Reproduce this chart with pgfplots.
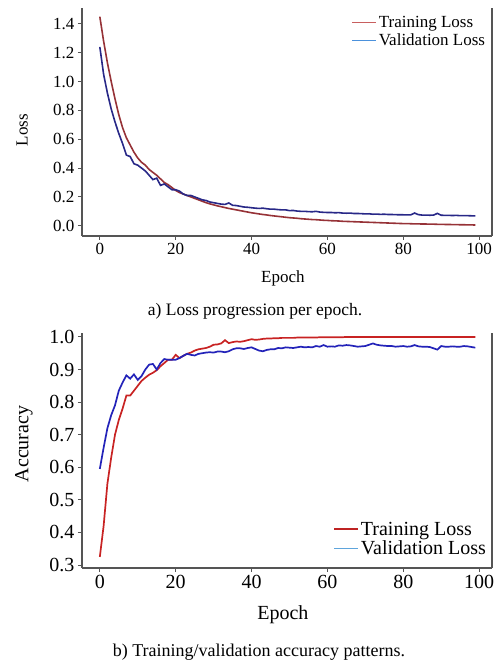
\documentclass[border=0pt]{standalone}
\usepackage{pgfplots}
\pgfplotsset{compat=1.18}
\usepackage{pgfplotstable}
\usepackage{fontspec}
\setmainfont{Liberation Serif}
\definecolor{axiscol}{RGB}{85,85,85}
\definecolor{trtop}{RGB}{150,50,55}
\definecolor{vatop}{RGB}{40,40,135}
\definecolor{trbot}{RGB}{200,35,35}
\definecolor{vabot}{RGB}{35,35,185}
\definecolor{legtrtop}{RGB}{200,95,95}
\definecolor{legvatop}{RGB}{75,145,220}
\definecolor{legtrbot}{RGB}{190,35,35}
\definecolor{legvabot}{RGB}{95,165,220}

\pgfplotstableread{
e tr va
0 1.45 1.24
1 1.28 1.05
2 1.13 0.92
3 1.00 0.81
4 0.88 0.72
5 0.77 0.64
6 0.68 0.57
7 0.61 0.49
8 0.56 0.48
9 0.51 0.43
10 0.47 0.42
11 0.44 0.40
12 0.42 0.38
13 0.39 0.35
14 0.37 0.32
15 0.35 0.33
16 0.325 0.28
17 0.30 0.29
18 0.285 0.27
19 0.265 0.25
20 0.245 0.25
21 0.23 0.24
22 0.22 0.22
23 0.21 0.21
24 0.20 0.21
25 0.19 0.20
26 0.18 0.19
27 0.17 0.18
28 0.16 0.175
29 0.152 0.165
30 0.145 0.16
31 0.138 0.155
32 0.132 0.15
33 0.126 0.148
34 0.12 0.158
35 0.115 0.142
36 0.11 0.14
37 0.105 0.135
38 0.10 0.13
39 0.095 0.128
40 0.09 0.125
41 0.086 0.122
42 0.082 0.12
43 0.078 0.122
44 0.075 0.118
45 0.071 0.115
46 0.068 0.115
47 0.065 0.112
48 0.062 0.11
49 0.059 0.11
50 0.056 0.105
51 0.054 0.106
52 0.052 0.102
53 0.049 0.10
54 0.047 0.10
55 0.045 0.098
56 0.043 0.097
57 0.042 0.10
58 0.040 0.095
59 0.038 0.093
60 0.037 0.092
61 0.035 0.092
62 0.034 0.09
63 0.033 0.091
64 0.031 0.088
65 0.030 0.087
66 0.029 0.088
67 0.028 0.085
68 0.027 0.085
69 0.026 0.084
70 0.025 0.082
71 0.024 0.083
72 0.023 0.08
73 0.022 0.081
74 0.021 0.079
75 0.020 0.08
76 0.019 0.078
77 0.018 0.078
78 0.017 0.077
79 0.016 0.076
80 0.015 0.076
81 0.015 0.075
82 0.014 0.076
83 0.013 0.088
84 0.013 0.077
85 0.012 0.074
86 0.012 0.074
87 0.011 0.073
88 0.011 0.074
89 0.010 0.086
90 0.010 0.073
91 0.009 0.072
92 0.009 0.072
93 0.008 0.071
94 0.008 0.072
95 0.007 0.070
96 0.007 0.070
97 0.006 0.070
98 0.006 0.069
99 0.005 0.069
}\losstable

\pgfplotstableread{
e tr va
0 0.325 0.595
1 0.42 0.66
2 0.55 0.72
3 0.63 0.76
4 0.70 0.79
5 0.745 0.835
6 0.78 0.86
7 0.82 0.882
8 0.82 0.872
9 0.835 0.885
10 0.85 0.868
11 0.865 0.88
12 0.875 0.90
13 0.884 0.915
14 0.89 0.917
15 0.898 0.90
16 0.91 0.92
17 0.92 0.932
18 0.93 0.93
19 0.93 0.93
20 0.945 0.93
21 0.935 0.935
22 0.942 0.942
23 0.948 0.948
24 0.952 0.945
25 0.958 0.943
26 0.962 0.948
27 0.964 0.95
28 0.966 0.952
29 0.97 0.953
30 0.976 0.952
31 0.977 0.955
32 0.98 0.955
33 0.99 0.953
34 0.981 0.956
35 0.984 0.962
36 0.986 0.965
37 0.985 0.965
38 0.987 0.963
39 0.99 0.966
40 0.993 0.968
41 0.991 0.963
42 0.992 0.958
43 0.994 0.956
44 0.995 0.96
45 0.995 0.962
46 0.996 0.962
47 0.996 0.966
48 0.997 0.965
49 0.997 0.968
50 0.997 0.967
51 0.997 0.966
52 0.998 0.968
53 0.998 0.970
54 0.998 0.968
55 0.998 0.969
56 0.998 0.968
57 0.998 0.972
58 0.999 0.970
59 0.999 0.975
60 0.999 0.970
61 0.999 0.971
62 0.999 0.970
63 0.999 0.974
64 0.999 0.973
65 1.000 0.975
66 1.000 0.974
67 1.000 0.972
68 1.000 0.970
69 1.000 0.971
70 1.000 0.972
71 1.000 0.976
72 1.000 0.980
73 1.000 0.976
74 1.000 0.974
75 1.000 0.973
76 1.000 0.972
77 1.000 0.972
78 1.000 0.970
79 1.000 0.971
80 1.000 0.972
81 1.000 0.970
82 1.000 0.971
83 1.000 0.975
84 1.000 0.971
85 1.000 0.970
86 1.000 0.970
87 1.000 0.969
88 1.000 0.965
89 1.000 0.961
90 1.000 0.972
91 1.000 0.970
92 1.000 0.970
93 1.000 0.971
94 1.000 0.970
95 1.000 0.970
96 1.000 0.972
97 1.000 0.971
98 1.000 0.969
99 1.000 0.967
}\acctable

\pgfplotsset{
  common/.style={
    scale only axis,
    width=410pt,
    axis x line*=bottom,
    axis y line*=box,
    ytick pos=left,
    xtick pos=bottom,
    axis line style={axiscol, line width=1.1pt},
    tick style={axiscol, line width=1pt},
    tick align=outside,
    major tick length=4pt,
    xmin=-4.7, xmax=103.4,
    xtick={0,20,40,60,80,100},
    /pgf/number format/assume math mode=true,
    y tick label style={/pgf/number format/.cd, fixed, fixed zerofill, precision=1},
    legend cell align=left,
    legend style={draw=none, fill=none, anchor=north east, inner sep=0pt, outer sep=0pt},
    legend image code/.code={\draw[#1] (0pt,0pt) -- (24pt,0pt);},
  },
}

\begin{document}
\begin{tikzpicture}[x=1pt,y=1pt]
\useasboundingbox (0,0) rectangle (498,662);

% Top: loss
\begin{axis}[common,
  at={(82pt,426pt)}, anchor=south west,
  height=228pt,
  ymin=-0.071, ymax=1.51,
  ytick={0,0.2,0.4,0.6,0.8,1.0,1.2,1.4},
  ticklabel style={font=\fontsize{17}{19}\selectfont},
  xlabel={Epoch}, ylabel={Loss},
  label style={font=\fontsize{17}{19}\selectfont},
  x label style={at={(axis description cs:0.49,-0.184)}, anchor=center},
  y label style={at={(axis description cs:-0.146,0.465)}, anchor=center},
  legend style={at={(axis description cs:0.988,0.974)}, font=\fontsize{17}{19}\selectfont, row sep=1pt},
]
\addplot[trtop, line width=1.6pt, forget plot] table[x=e, y=tr] {\losstable};
\addplot[vatop, line width=1.6pt, forget plot] table[x=e, y=va] {\losstable};
\addlegendimage{legtrtop, line width=1.2pt}
\addlegendentry{Training Loss}
\addlegendimage{legvatop, line width=1.2pt}
\addlegendentry{Validation Loss}
\end{axis}
\node[font=\fontsize{17.5}{20}\selectfont] at (255,351) {a) Loss progression per epoch.};

% Bottom: accuracy
\begin{axis}[common,
  at={(82pt,94pt)}, anchor=south west,
  height=235pt,
  ymin=0.291, ymax=1.012,
  ytick={0.3,0.4,0.5,0.6,0.7,0.8,0.9,1.0},
  ticklabel style={font=\fontsize{20}{22}\selectfont},
  xlabel={Epoch}, ylabel={Accuracy},
  label style={font=\fontsize{20}{22}\selectfont},
  x label style={at={(axis description cs:0.49,-0.2)}, anchor=center},
  y label style={at={(axis description cs:-0.1415,0.528)}, anchor=center},
  legend style={at={(axis description cs:0.990,0.205)}, font=\fontsize{20}{22}\selectfont, row sep=0pt},
]
\addplot[trbot, line width=1.7pt, forget plot] table[x=e, y=tr] {\acctable};
\addplot[vabot, line width=1.7pt, forget plot] table[x=e, y=va] {\acctable};
\addlegendimage{legtrbot, line width=1.4pt}
\addlegendentry{Training Loss}
\addlegendimage{legvabot, line width=1.5pt}
\addlegendentry{Validation Loss}
\end{axis}
\node[font=\fontsize{18}{20}\selectfont] at (259,10) {b) Training/validation accuracy patterns.};
\end{tikzpicture}
\end{document}
